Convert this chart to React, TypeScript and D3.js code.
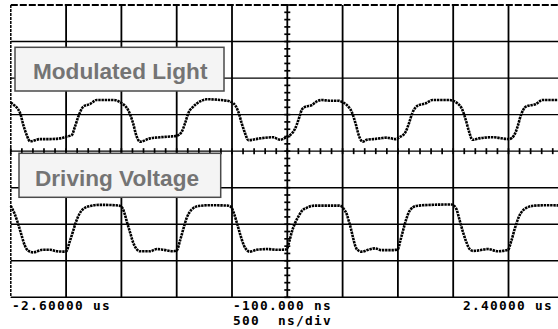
import React from "react";
import * as d3 from "d3";

const W = 558;
const H = 329;

// time axis (ns) and vertical divisions
const timeDomain: [number, number] = [-2600, 2400];
const divDomain: [number, number] = [-4, 4];
const timeGridNs = [-2600, -2100, -1600, -1100, -600, -100, 400, 900, 1400, 1900, 2400];
const divGrid = [-4, -3, -2, -1, 0, 1, 2, 3, 4];

const leftLabel = "-2.60000 us";
const centerLabel = "-100.000 ns";
const scaleLabel = "500  ns/div";
const rightLabel = "2.40000 us";

const traceLabels = ["Modulated Light", "Driving Voltage"];

// [time ns, divisions]
const driveTrace: [number, number][] = [
  [-2600, -1.5], [-2570, -1.68], [-2540, -1.93], [-2505, -2.28], [-2475, -2.57], [-2445, -2.72], [-2400, -2.77],
  [-2310, -2.7], [-2245, -2.7], [-2185, -2.74], [-2110, -2.75],
  [-2098, -2.74], [-2070, -2.5], [-2040, -2.22], [-2012, -1.95], [-1980, -1.72], [-1940, -1.57], [-1880, -1.5],
  [-1800, -1.47], [-1650, -1.48], [-1610, -1.5],
  [-1590, -1.56], [-1570, -1.72], [-1548, -1.96], [-1522, -2.22], [-1495, -2.49], [-1465, -2.67], [-1435, -2.74],
  [-1340, -2.74], [-1280, -2.68], [-1220, -2.7], [-1130, -2.74], [-1100, -2.72],
  [-1070, -2.45], [-1040, -2.13], [-1010, -1.83], [-965, -1.6], [-900, -1.5], [-800, -1.48], [-640, -1.49], [-605, -1.54],
  [-585, -1.68], [-555, -1.97], [-525, -2.29], [-492, -2.58], [-462, -2.72], [-440, -2.75], [-377, -2.7], [-286, -2.68],
  [-184, -2.7], [-110, -2.69],
  [-100, -2.66], [-80, -2.45], [-58, -2.2], [-30, -1.97], [0, -1.79], [30, -1.64], [75, -1.55], [150, -1.49], [370, -1.49], [395, -1.52],
  [410, -1.58], [437, -1.72], [455, -1.9], [475, -2.12], [493, -2.35], [512, -2.57], [533, -2.7], [572, -2.75], [632, -2.7],
  [692, -2.66], [753, -2.71], [858, -2.71], [900, -2.68],
  [922, -2.45], [946, -2.18], [976, -1.86], [1007, -1.63], [1066, -1.5], [1200, -1.47], [1383, -1.46], [1410, -1.5],
  [1428, -1.58], [1459, -1.9], [1489, -2.22], [1519, -2.49], [1549, -2.68], [1580, -2.73], [1624, -2.72], [1715, -2.68],
  [1805, -2.74], [1895, -2.7],
  [1926, -2.45], [1956, -2.13], [1992, -1.81], [2047, -1.58], [2137, -1.49], [2250, -1.48], [2400, -1.49],
];

const lightTrace: [number, number][] = [
  [-2600, 1.33], [-2592, 1.31], [-2517, 1.05], [-2487, 0.72], [-2456, 0.44], [-2426, 0.27], [-2336, 0.33], [-2246, 0.33],
  [-2155, 0.35], [-2095, 0.4], [-2049, 0.44], [-2020, 0.67], [-1990, 0.94], [-1944, 1.22], [-1884, 1.29], [-1823, 1.4],
  [-1676, 1.4], [-1597, 1.31], [-1540, 1.13], [-1495, 0.77], [-1462, 0.4], [-1432, 0.26],
  [-1341, 0.35], [-1250, 0.38], [-1160, 0.4], [-1100, 0.42], [-1055, 0.53], [-1025, 0.76], [-995, 1.04], [-950, 1.22],
  [-889, 1.36], [-829, 1.42], [-648, 1.38], [-588, 1.31], [-543, 1.08], [-512, 0.76], [-482, 0.49], [-452, 0.3],
  [-346, 0.35], [-226, 0.38], [-166, 0.31],
  [-105, 0.39], [-75, 0.44], [-46, 0.53], [-15, 0.72], [0, 0.85], [15, 0.99], [30, 1.13], [60, 1.21], [121, 1.26],
  [166, 1.36], [211, 1.4], [286, 1.38], [361, 1.38], [406, 1.33], [452, 1.22], [482, 1.08], [503, 0.9], [521, 0.72],
  [537, 0.53], [557, 0.35], [582, 0.26], [618, 0.31], [678, 0.33], [738, 0.35], [799, 0.37], [874, 0.33],
  [925, 0.4], [970, 0.53], [1000, 0.76], [1030, 1.04], [1076, 1.24], [1152, 1.31], [1212, 1.4], [1363, 1.4], [1438, 1.31],
  [1483, 1.13], [1514, 0.85], [1544, 0.53], [1574, 0.31], [1634, 0.35], [1755, 0.38], [1907, 0.33],
  [1952, 0.44], [1982, 0.67], [2013, 0.99], [2058, 1.22], [2148, 1.29], [2208, 1.4], [2359, 1.4], [2400, 1.4],
];

export default function App() {
  const x = d3.scaleLinear().domain(timeDomain).range([10.8, 563.8]);
  const y = d3.scaleLinear().domain(divDomain).range([297.3, 5]);

  const line = d3
    .line<[number, number]>()
    .x((d) => x(d[0]))
    .y((d) => y(d[1]))
    .curve(d3.curveMonotoneX);

  const minorT = d3.range(timeDomain[0], timeDomain[1] + 1, 100);
  const minorV = d3.range(divDomain[0], divDomain[1] + 0.001, 0.2);
  const cx = x(-100);
  const cy = y(0);

  const monoFont = "'DejaVu Sans Mono', 'Liberation Mono', monospace";
  const textStyle: React.CSSProperties = { whiteSpace: "pre" };

  return (
    <svg
      width={W}
      height={H}
      viewBox={`0 0 ${W} ${H}`}
      style={{ position: "absolute", left: 0, top: 0, background: "#fff" }}
    >
      <rect x={0} y={0} width={W} height={H} fill="#fff" />
      {/* horizontal grid */}
      {divGrid.map((v, i) => (
        <line
          key={"h" + i}
          x1={x(timeDomain[0])}
          x2={x(timeDomain[1])}
          y1={y(v)}
          y2={y(v)}
          stroke="#000"
          strokeWidth={i === divGrid.length - 1 ? 2 : 1.4}
          strokeDasharray={i === divGrid.length - 1 ? "7 2" : undefined}
        />
      ))}
      {/* vertical grid */}
      {timeGridNs.map((t, i) => (
        <line
          key={"v" + i}
          x1={x(t)}
          x2={x(t)}
          y1={y(4)}
          y2={y(-4)}
          stroke="#000"
          strokeWidth={i === 0 ? 1.5 : 1.8}
          strokeDasharray={i === 0 ? "3 1" : undefined}
        />
      ))}
      {/* center axis ticks */}
      {minorT.map((t, i) => (
        <line key={"tx" + i} x1={x(t)} x2={x(t)} y1={cy - 3} y2={cy + 3} stroke="#000" strokeWidth={1.7} />
      ))}
      {minorV.map((v, i) => (
        <line key={"ty" + i} x1={cx - 3} x2={cx + 3} y1={y(v)} y2={y(v)} stroke="#000" strokeWidth={1.7} />
      ))}

      {/* traces */}
      <path
        d={line(lightTrace) || ""}
        fill="none"
        stroke="#000"
        strokeWidth={2.6}
        strokeDasharray="2.4 0.8"
      />
      <path
        d={line(driveTrace) || ""}
        fill="none"
        stroke="#000"
        strokeWidth={2.6}
        strokeDasharray="2.4 0.8"
      />

      {/* label boxes */}
      <rect x={15} y={47.3} width={209} height={43.7} fill="#f4f4f4" stroke="#4a4a4a" strokeWidth={1.5} />
      <text
        x={33}
        y={78.5}
        fontFamily="'Liberation Sans', Arial, sans-serif"
        fontWeight="bold"
        fontSize={22.6}
        fill="#747474"
      >
        {traceLabels[0]}
      </text>
      <rect x={19} y={153.3} width={201.7} height={44} fill="#f4f4f4" stroke="#4a4a4a" strokeWidth={1.5} />
      <text
        x={35}
        y={185.5}
        fontFamily="'Liberation Sans', Arial, sans-serif"
        fontWeight="bold"
        fontSize={22.6}
        fill="#747474"
      >
        {traceLabels[1]}
      </text>

      {/* bottom labels */}
      <g fontFamily={monoFont} fontWeight="bold" fontSize={12.8} letterSpacing={1.3} fill="#000">
        <text x={12} y={310} style={textStyle}>{leftLabel}</text>
        <text x={233} y={309.5} style={textStyle}>{centerLabel}</text>
        <text x={233} y={324.5} style={textStyle}>{scaleLabel}</text>
        <text x={463} y={310} style={textStyle}>{rightLabel}</text>
      </g>
    </svg>
  );
}
